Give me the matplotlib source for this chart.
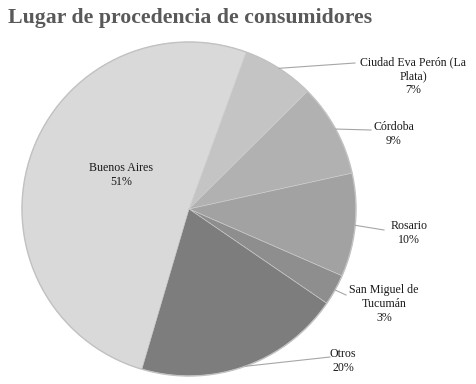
import numpy as np
import matplotlib.pyplot as plt

# data
labels = ['Buenos Aires', 'Ciudad Eva Perón (La\nPlata)', 'Córdoba', 'Rosario',
          'San Miguel de\nTucumán', 'Otros']
values = [51, 7, 9, 10, 3, 20]
colors = ['#d9d9d9', '#c4c4c4', '#b1b1b1', '#a2a2a2', '#8e8e8e', '#7d7d7d']

W, H = 476, 384
fig = plt.figure(figsize=(W / 100, H / 100), dpi=100)
ax = fig.add_axes([0, 0, 1, 1])

cx, cy, r = 189, H - 209, 167
start = 70 + 3.6 * values[0]
wedges, _ = ax.pie(values, colors=colors, startangle=start, counterclock=False,
                   center=(cx, cy), radius=r, frame=True,
                   wedgeprops=dict(edgecolor='#d0d0d0', linewidth=0.4))
ax.set_xlim(0, W)
ax.set_ylim(0, H)
ax.set_aspect('equal')
ax.axis('off')

# soft rim
ax.add_patch(plt.Circle((cx, cy), r, fill=False, ec='#c2c2c2', lw=1.0))

font = 'Liberation Serif'
# label text positions (pixels from top-left) and leader end points
text_pos = [(121, 175), (413, 76), (394, 134), (409, 233), (384, 304), (343, 361)]
leader_end = [None, (355, 63), (371, 130), (384, 230), (346, 295), (330, 357)]

for i, w in enumerate(wedges):
    mid = np.deg2rad((w.theta1 + w.theta2) / 2)
    txt = f'{labels[i]}\n{values[i]}%'
    tx, ty = text_pos[i]
    ax.text(tx, H - ty, txt, ha='center', va='center', fontsize=8.6,
            family=font, color='#1a1a1a', linespacing=1.22)
    if leader_end[i] is not None:
        ex, ey = cx + r * np.cos(mid), cy + r * np.sin(mid)
        lx, ly = leader_end[i]
        ax.plot([ex, lx], [ey, H - ly], color='#a6a6a6', lw=0.8)

fig.text(8 / W, 1 - 18 / H, 'Lugar de procedencia de consumidores', ha='left',
         va='center', fontsize=15.7, fontweight='bold', family=font, color='#595959')

fig.savefig('out.png', dpi=100, facecolor='white')
